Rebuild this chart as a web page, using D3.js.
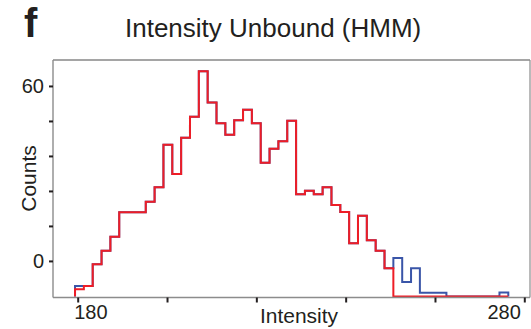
<!DOCTYPE html>
<html>
<head>
<meta charset="utf-8">
<script src="https://cdn.jsdelivr.net/npm/d3@7"></script>
<style>
  html, body { margin: 0; padding: 0; background: #fff; }
  svg { display: block; }
  text { font-family: "Liberation Sans", Arial, Helvetica, sans-serif; fill: #231f20; }
</style>
</head>
<body>
<svg id="chart" width="531" height="329"></svg>
<script>
// ---- data ----
const binStart = 179.4;   // left edge of first bin (intensity)
const binWidth = 1.98;    // bin width (intensity)
const baseValue = -12.2;  // histogram baseline, in axis units
// red series (step heights, axis units)
const redCounts = [
  -9.7, -8.6, -1.1, 3.5, 8.3, 16.7, 16.7, 16.7, 20.3, 25.3,
  39.8, 29.8, 42.2, 49.4, 65.0, 54.3, 47.2, 43.3, 48.2, 51.8,
  47.2, 33.7, 38.5, 41.0, 48.1, 22.9, 24.1, 22.9, 25.3, 19.2,
  16.8, 6.1, 15.5, 7.1, 3.5, -2.5, -12.2, -12.2, -12.2, -12.2,
  -12.2, -12.2, -12.2, -12.2, -12.2, -12.2, -12.2, -12.2, -12.2
];
// blue series (step heights, axis units)
const blueCounts = [
  -8.6, -8.6, -1.1, 3.5, 8.3, 16.7, 16.7, 16.7, 20.3, 25.3,
  39.8, 29.8, 42.2, 49.4, 65.0, 54.3, 47.2, 43.3, 48.2, 51.8,
  47.2, 33.7, 38.5, 41.0, 48.1, 22.9, 24.1, 22.9, 25.3, 19.2,
  16.8, 6.1, 15.5, 7.1, 3.5, -2.5, 1.0, -7.2, -2.5, -10.9,
  -10.9, -10.9, -12.2, -12.2, -12.2, -12.2, -12.2, -12.2, -10.8
];
const xTicks = [180, 200, 220, 240, 260, 280];
const xTickLabels = {180: "180", 280: "280"};
const yTicks = [0, 12, 24, 36, 48, 60];
const yTickLabels = {0: "0", 60: "60"};
const titleText = "Intensity Unbound (HMM)";
const panelLetter = "f";
const xLabel = "Intensity";
const yLabel = "Counts";

// ---- layout ----
const svg = d3.select("#chart");
const plot = {left: 53, right: 530, top: 60, bottom: 296.5};

const x = d3.scaleLinear().domain([180, 280]).range([77.7, 524.3]);
const y = d3.scaleLinear().domain([-12.2, 68.9]).range([plot.bottom, plot.top]);

function stepPath(vals) {
  const p = d3.path();
  p.moveTo(x(binStart), y(baseValue));
  vals.forEach((v, i) => {
    const x0 = x(binStart + i * binWidth), x1 = x(binStart + (i + 1) * binWidth);
    p.lineTo(x0, y(v));
    p.lineTo(x1, y(v));
  });
  p.lineTo(x(binStart + vals.length * binWidth), y(baseValue));
  return p.toString();
}

// frame (top & right)
svg.append("line").attr("x1", plot.left).attr("x2", plot.right)
  .attr("y1", plot.top).attr("y2", plot.top)
  .attr("stroke", "#4d4d4d").attr("stroke-width", 1.2);
svg.append("line").attr("x1", plot.right).attr("x2", plot.right)
  .attr("y1", plot.top).attr("y2", 297.5)
  .attr("stroke", "#8c8c8c").attr("stroke-width", 1.2);

// histograms
svg.append("path").attr("d", stepPath(blueCounts))
  .attr("fill", "none").attr("stroke", "#3a55a8").attr("stroke-width", 2)
  .attr("stroke-linejoin", "miter");
svg.append("path").attr("d", stepPath(redCounts))
  .attr("fill", "none").attr("stroke", "#ee1d26").attr("stroke-width", 2)
  .attr("stroke-linejoin", "miter");

// x axis
const xAxisG = svg.append("g").attr("transform", "translate(0,297.5)")
  .call(d3.axisBottom(x).tickValues(xTicks).tickSize(5).tickSizeOuter(0)
    .tickFormat(d => xTickLabels[d] || ""));
xAxisG.select(".domain").attr("d", `M${plot.left},0H${plot.right}`)
  .attr("stroke", "#8c8c8c").attr("stroke-width", 1.6);
xAxisG.selectAll(".tick line").attr("stroke", "#231f20").attr("stroke-width", 2);
xAxisG.selectAll(".tick text")
  .attr("font-size", 20).attr("y", 21).attr("dy", 0)
  .style("font-family", '"Liberation Sans", Arial, sans-serif').attr("fill", "#231f20")
  .attr("text-anchor", d => d === 180 ? "start" : "end")
  .attr("dx", -4);

// y axis
const yAxisG = svg.append("g").attr("transform", `translate(${plot.left},0)`)
  .call(d3.axisLeft(y).tickValues(yTicks).tickSize(4).tickSizeOuter(0)
    .tickFormat(d => yTickLabels[d] || ""));
yAxisG.select(".domain").attr("d", `M0,${plot.top}V297.5`)
  .attr("stroke", "#8c8c8c").attr("stroke-width", 1.4);
yAxisG.selectAll(".tick line").attr("stroke", "#231f20").attr("stroke-width", 2);
yAxisG.selectAll(".tick text")
  .attr("font-size", 20).attr("x", -9)
  .style("font-family", '"Liberation Sans", Arial, sans-serif').attr("fill", "#231f20");

// labels
svg.append("text").attr("x", 125).attr("y", 37)
  .attr("font-size", 26).text(titleText);
svg.append("text").attr("x", 24).attr("y", 36.5)
  .attr("font-size", 40).attr("font-weight", "bold").text(panelLetter);
svg.append("text").attr("x", 299).attr("y", 323)
  .attr("text-anchor", "middle").attr("font-size", 21).text(xLabel);
svg.append("text")
  .attr("transform", "translate(36,178.5) rotate(-90)")
  .attr("text-anchor", "middle").attr("font-size", 21).text(yLabel);
</script>
</body>
</html>
